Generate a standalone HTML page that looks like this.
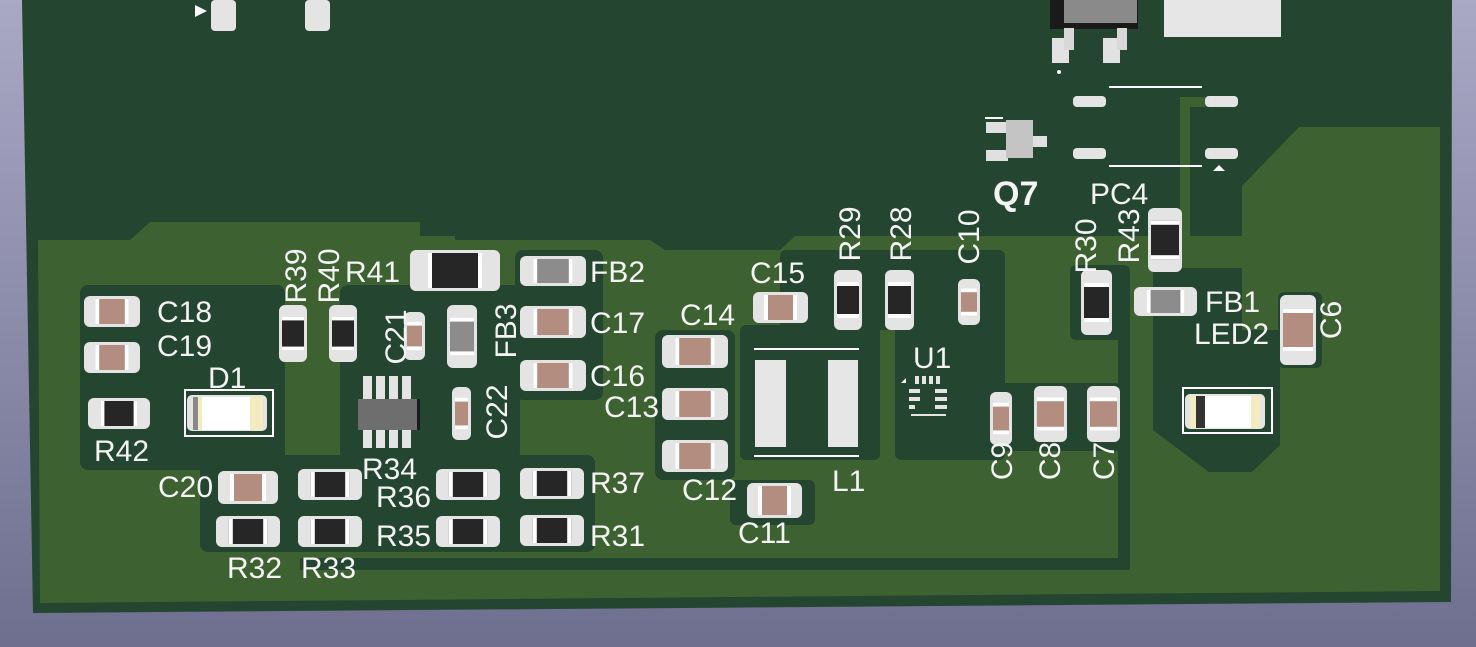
<!DOCTYPE html>
<html><head><meta charset="utf-8"><style>
html,body{margin:0;padding:0;width:1476px;height:647px;overflow:hidden}
svg{display:block}
text{font-family:"Liberation Sans",sans-serif;fill:#f4f4f4;font-size:30px}
</style></head><body>
<svg id="s" width="1476" height="647" viewBox="0 0 1476 647" xmlns="http://www.w3.org/2000/svg">
<defs><linearGradient id="bg" x1="0" y1="0" x2="0" y2="1"><stop offset="0" stop-color="#a9a9c6"/><stop offset="1" stop-color="#6e6e8e"/></linearGradient></defs>
<rect width="1476" height="647" fill="url(#bg)"/>
<polygon points="22,0 1452,0 1451,602 33,613" fill="#24452f"/>
<polygon points="38,240 130,240 150,222 420,222 420,236 455,236 455,240 650,240 665,250 780,250 795,236 1242,236 1242,186 1299,127 1440,127 1440,591 40,603" fill="#3e6131"/>
<g fill="#24452f">
<rect x="80" y="285" width="205" height="185" rx="8"/>
<rect x="200" y="455" width="395" height="97" rx="8"/>
<rect x="340" y="285" width="180" height="175" rx="8"/>
<rect x="515" y="250" width="88" height="150" rx="8"/>
<rect x="655" y="330" width="80" height="150" rx="8"/>
<rect x="740" y="325" width="140" height="135" rx="6"/>
<rect x="780" y="250" width="180" height="80" rx="6"/>
<rect x="895" y="250" width="110" height="210" rx="6"/>
<rect x="985" y="383" width="140" height="68" rx="6"/>
<rect x="1070" y="265" width="60" height="75" rx="6"/>
<polygon points="1153,268 1242,268 1242,330 1280,330 1280,445 1252,472 1209,472 1153,430"/>
<rect x="300" y="558" width="830" height="12"/>
<rect x="1118" y="330" width="12" height="240"/>
<rect x="1278" y="292" width="44" height="76" rx="6"/>
<rect x="730" y="480" width="85" height="45" rx="6"/>
</g>
<rect x="285" y="375" width="55" height="65" fill="#3e6131"/>
<rect x="1180" y="97" width="10" height="140" fill="#3e6131"/>
<rect x="1180" y="97" width="25" height="10" fill="#3e6131"/>
<g id="c"></g>
<!-- top parts -->
<rect x="1164" y="0" width="117" height="37" fill="#e6e6e6"/>
<rect x="1050" y="0" width="88" height="29" fill="#1a1a1a"/>
<rect x="1064" y="0" width="73" height="23" fill="#8a8a8a"/>
<rect x="1052" y="38" width="17" height="25" fill="#e2e2e2"/>
<rect x="1103" y="38" width="17" height="25" fill="#e2e2e2"/>
<rect x="1064" y="28" width="10" height="22" fill="#d8d8d8"/>
<rect x="1117" y="28" width="10" height="22" fill="#d8d8d8"/>
<circle cx="1059" cy="72" r="2" fill="#fff"/>
<rect x="211" y="0" width="25" height="31" rx="4" fill="#e4e4e4"/>
<rect x="305" y="0" width="25" height="31" rx="4" fill="#e4e4e4"/>
<polygon points="195,5 207,11 195,17" fill="#fff"/>
<!-- PC4 -->
<g fill="#e4e4e4"><rect x="1073" y="96" width="33" height="11" rx="4"/><rect x="1205" y="96" width="33" height="11" rx="4"/><rect x="1073" y="148" width="33" height="11" rx="4"/><rect x="1205" y="148" width="33" height="11" rx="4"/></g>
<rect x="1109" y="86" width="93" height="2" fill="#fff"/><rect x="1109" y="165" width="93" height="2" fill="#fff"/>
<polygon points="1219,165 1225,171 1213,171" fill="#fff"/>
<!-- Q7 -->
<rect x="986" y="122" width="22" height="11" fill="#e0e0e0"/><rect x="986" y="150" width="22" height="11" fill="#e0e0e0"/><rect x="1033" y="136" width="14" height="11" fill="#e0e0e0"/>
<rect x="1006" y="120" width="27" height="38" fill="#c4c4c4"/>
<rect x="985" y="117" width="18" height="2" fill="#fff"/>
<!-- IC -->
<g fill="#e4e4e4"><rect x="363" y="376" width="9" height="24"/><rect x="376" y="376" width="9" height="24"/><rect x="389" y="376" width="9" height="24"/><rect x="402" y="376" width="9" height="24"/><rect x="363" y="430" width="9" height="18"/><rect x="376" y="430" width="9" height="18"/><rect x="389" y="430" width="9" height="18"/><rect x="402" y="430" width="9" height="18"/></g>
<rect x="358" y="399" width="61" height="31" fill="#6e6e6e"/><rect x="417" y="399" width="3" height="31" fill="#1a1a1a"/>
<!-- L1 -->
<rect x="755" y="360" width="31" height="87" fill="#e6e6e6"/><rect x="828" y="360" width="30" height="87" fill="#e6e6e6"/>
<rect x="754" y="348" width="105" height="2" fill="#fff"/><rect x="754" y="455" width="105" height="2" fill="#fff"/>
<!-- U1 -->
<g fill="#e4e4e4"><rect x="915" y="376" width="4" height="8"/><rect x="922" y="376" width="4" height="8"/><rect x="929" y="376" width="4" height="8"/><rect x="936" y="376" width="4" height="8"/><rect x="909" y="389" width="11" height="4"/><rect x="935" y="389" width="12" height="4"/><rect x="909" y="397" width="11" height="4"/><rect x="935" y="397" width="12" height="4"/><rect x="909" y="405" width="6" height="4"/><rect x="935" y="405" width="12" height="4"/><rect x="911" y="414" width="35" height="2"/></g>
<polygon points="901,383 906,378 906,383" fill="#fff"/>
<!-- LEDs -->
<rect x="185" y="390" width="88" height="46" fill="none" stroke="#fff" stroke-width="2"/>
<rect x="187" y="395" width="80" height="36" rx="5" fill="#e4e4e4"/><rect x="193" y="397" width="70" height="33" fill="#f3ecc0"/><rect x="202" y="397" width="48" height="33" fill="#fff"/><rect x="193" y="397" width="5" height="33" fill="#888"/>
<rect x="1183" y="388" width="89" height="45" fill="none" stroke="#fff" stroke-width="2"/>
<rect x="1185" y="394" width="80" height="35" rx="5" fill="#e4e4e4"/><rect x="1190" y="396" width="70" height="32" fill="#f3ecc0"/><rect x="1205" y="396" width="46" height="32" fill="#fff"/><rect x="1196" y="396" width="9" height="32" fill="#333"/>
<!-- labels -->
<text x="157" y="322">C18</text><text x="157" y="356">C19</text><text x="208" y="388">D1</text>
<text x="94" y="461">R42</text><text x="158" y="497">C20</text><text x="227" y="578">R32</text><text x="301" y="578">R33</text>
<text x="362" y="479">R34</text><text x="376" y="507">R36</text><text x="376" y="546">R35</text>
<text x="590" y="493">R37</text><text x="590" y="546">R31</text><text x="590" y="333">C17</text><text x="590" y="386">C16</text>
<text x="590" y="282">FB2</text><text x="345" y="282">R41</text><text x="680" y="325">C14</text><text x="604" y="417">C13</text>
<text x="682" y="500">C12</text><text x="750" y="283">C15</text><text x="738" y="543">C11</text><text x="832" y="491">L1</text>
<text x="913" y="368">U1</text><text x="1194" y="344">LED2</text><text x="1205" y="312">FB1</text>
<text x="993" y="205" style="font-weight:bold;font-size:34px">Q7</text><text x="1090" y="204">PC4</text>
<g text-anchor="middle">
<text transform="translate(306,276) rotate(-90)">R39</text>
<text transform="translate(339,276) rotate(-90)">R40</text>
<text transform="translate(406,337) rotate(-90)">C21</text>
<text transform="translate(516,331) rotate(-90)">FB3</text>
<text transform="translate(507,412) rotate(-90)">C22</text>
<text transform="translate(860,234) rotate(-90)">R29</text>
<text transform="translate(911,234) rotate(-90)">R28</text>
<text transform="translate(979,237) rotate(-90)">C10</text>
<text transform="translate(1096,246) rotate(-90)">R30</text>
<text transform="translate(1139,236) rotate(-90)">R43</text>
<text transform="translate(1012,461) rotate(-90)">C9</text>
<text transform="translate(1060,461) rotate(-90)">C8</text>
<text transform="translate(1114,461) rotate(-90)">C7</text>
<text transform="translate(1341,320) rotate(-90)">C6</text>
</g>
</svg>
<script>
var g=document.getElementById('c'),h='';
function p(x,y,w,hh,vert,col,cap){
 h+='<rect x="'+x+'" y="'+y+'" width="'+w+'" height="'+hh+'" rx="6" fill="#e4e4e4"/>';
 if(!vert){var bx=x+w*0.2,bw=w*0.6;h+='<rect x="'+bx+'" y="'+(y+3)+'" width="'+bw+'" height="'+(hh-6)+'" fill="'+col+'"/>';
  h+='<rect x="'+bx+'" y="'+(y+3)+'" width="4" height="'+(hh-6)+'" fill="#fff"/><rect x="'+(bx+bw-4)+'" y="'+(y+3)+'" width="4" height="'+(hh-6)+'" fill="#fff"/>';}
 else{var by=y+hh*0.2,bh=hh*0.6;h+='<rect x="'+(x+3)+'" y="'+by+'" width="'+(w-6)+'" height="'+bh+'" fill="'+col+'"/>';
  h+='<rect x="'+(x+3)+'" y="'+by+'" width="'+(w-6)+'" height="4" fill="#fff"/><rect x="'+(x+3)+'" y="'+(by+bh-4)+'" width="'+(w-6)+'" height="4" fill="#fff"/>';}
}
var B='#b38d80',K='#262626',G='#8c8c8c';
[[84,296,56,31],[84,342,56,31],[218,471,60,33],[520,306,66,32],[520,360,66,31],[662,335,66,33],[662,388,66,32],[662,440,66,32],[753,292,55,31],[747,483,55,35]].forEach(a=>p(a[0],a[1],a[2],a[3],0,B));
[[88,398,62,31],[298,469,64,31],[436,469,64,31],[520,468,64,31],[216,516,64,31],[298,516,64,31],[436,516,64,31],[520,515,64,31],[410,250,90,41]].forEach(a=>p(a[0],a[1],a[2],a[3],0,K));
p(520,256,66,30,0,G);p(1134,287,63,29,0,G);
[[279,305,28,57],[329,305,28,57],[834,270,28,60],[885,270,29,60],[1081,270,31,65],[1148,208,34,64]].forEach(a=>p(a[0],a[1],a[2],a[3],1,K));
[[404,312,21,48],[452,387,19,53],[958,279,22,46],[990,392,22,53],[1034,386,33,56],[1087,386,33,56],[1280,295,36,70]].forEach(a=>p(a[0],a[1],a[2],a[3],1,B));
p(447,305,30,63,1,G);
g.innerHTML=h;
</script>
</body></html>
